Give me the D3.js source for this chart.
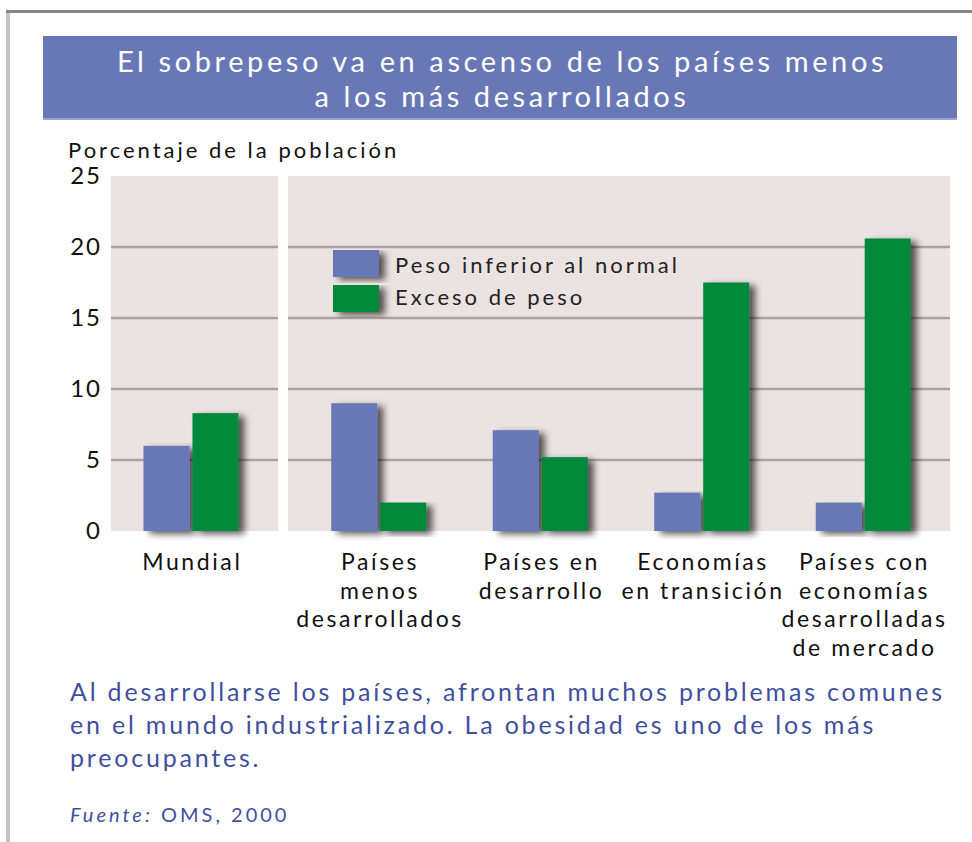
<!DOCTYPE html>
<html>
<head>
<meta charset="utf-8">
<script src="https://cdn.jsdelivr.net/npm/d3@7"></script>
<style>
  body { margin: 0; background: #fff; }
  svg { display: block; }
  text { font-family: "Lato", "DejaVu Sans", sans-serif; }
</style>
</head>
<body>
<svg id="chart" width="972" height="842"></svg>
<script>
const categories = [
    "Mundial",
    "Países menos desarrollados",
    "Países en desarrollo",
    "Economías en transición",
    "Países con economías desarrolladas de mercado"
];
const categoryLines = [
    ["Mundial"],
    ["Países", "menos", "desarrollados"],
    ["Países en", "desarrollo"],
    ["Economías", "en transición"],
    ["Países con", "economías", "desarrolladas", "de mercado"]
];
const seriesNames = ["Peso inferior al normal", "Exceso de peso"];
const underweight = [6.0, 9.0, 7.1, 2.7, 2.0];
const overweight = [8.3, 2.0, 5.2, 17.5, 20.6];
const yTicks = [0, 5, 10, 15, 20, 25];

const titleLines = [
    "El sobrepeso va en ascenso de los países menos",
    "a los más desarrollados"
];
const captionLines = [
    "Al desarrollarse los países, afrontan muchos problemas comunes",
    "en el mundo industrializado. La obesidad es uno de los más",
    "preocupantes."
];

const blue = "#6878b6";
const green = "#00883a";
const textBlue = "#3f4f9f";

const svg = d3.select("#chart");

// drop shadow for the bars
const defs = svg.append("defs");
const shadow = defs.append("filter")
    .attr("id", "shadow")
    .attr("x", "-30%").attr("y", "-10%")
    .attr("width", "160%").attr("height", "130%");
shadow.append("feGaussianBlur").attr("in", "SourceAlpha").attr("stdDeviation", 3.5).attr("result", "blur");
shadow.append("feOffset").attr("in", "blur").attr("dx", 6).attr("dy", 3).attr("result", "off");
shadow.append("feComponentTransfer").attr("in", "off").attr("result", "soft")
    .append("feFuncA").attr("type", "linear").attr("slope", 0.65);
const merge = shadow.append("feMerge");
merge.append("feMergeNode").attr("in", "soft");
merge.append("feMergeNode").attr("in", "SourceGraphic");

// frame
svg.append("rect").attr("x", 6).attr("y", 10).attr("width", 966).attr("height", 3).attr("fill", "#858585");
svg.append("rect").attr("x", 6).attr("y", 13).attr("width", 4).attr("height", 829).attr("fill", "#c4c4c4");

// title box
svg.append("rect")
    .attr("x", 43).attr("y", 36)
    .attr("width", 914).attr("height", 84)
    .attr("fill", blue);
svg.append("rect")
    .attr("x", 43).attr("y", 118)
    .attr("width", 914).attr("height", 2)
    .attr("fill", "#9aa4d0");

svg.selectAll(".title")
    .data(titleLines)
    .enter()
    .append("text")
    .attr("class", "title")
    .attr("x", 502)
    .attr("y", (d, i) => 72 + i * 35)
    .attr("text-anchor", "middle")
    .attr("fill", "#fff")
    .attr("font-size", 29)
    .attr("letter-spacing", 3.6)
    .text((d) => d);

// y axis label
svg.append("text")
    .attr("x", 68).attr("y", 158)
    .attr("font-size", 22)
    .attr("letter-spacing", 3)
    .attr("fill", "#111")
    .text("Porcentaje de la población");

// scales
const y = d3.scaleLinear().domain([0, 25]).range([531, 176]);

const leftPanel = { x0: 111, x1: 278 };
const rightPanel = { x0: 288, x1: 950 };

const xLeft = d3.scaleBand().domain(categories.slice(0, 1)).range([111, 271]);
const xRight = d3.scaleBand().domain(categories.slice(1)).range([298, 944]);
const groupCenter = (c) => {
    const s = xLeft.domain().includes(c) ? xLeft : xRight;
    return s(c) + s.bandwidth() / 2;
};
const xInner = d3.scaleBand().domain(seriesNames).range([0, 95]).paddingInner(0.06);

// panels
[leftPanel, rightPanel].forEach((p) => {
    svg.append("rect")
        .attr("x", p.x0).attr("y", y(25))
        .attr("width", p.x1 - p.x0).attr("height", y(0) - y(25))
        .attr("fill", "#ebe3e1");
    svg.append("g")
        .selectAll("line")
        .data(yTicks.filter((t) => t > 0 && t < 25))
        .enter()
        .append("line")
        .attr("x1", p.x0).attr("x2", p.x1)
        .attr("y1", (d) => y(d)).attr("y2", (d) => y(d))
        .attr("stroke", "#aaa2a0")
        .attr("stroke-width", 2.5);
});

// y axis ticks
const yAxis = svg.append("g")
    .attr("transform", "translate(102,0)")
    .call(d3.axisLeft(y).tickValues(yTicks).tickSize(0).tickPadding(0));
yAxis.select(".domain").remove();
yAxis.selectAll("text")
    .attr("font-size", 24)
    .attr("letter-spacing", 2)
    .attr("fill", "#111")
    .style("font-family", "Lato, sans-serif");

// bars
const rows = categories.map((c, i) => ({ category: c, values: [underweight[i], overweight[i]] }));

const groups = svg.append("g")
    .selectAll("g")
    .data(rows)
    .enter()
    .append("g")
    .attr("transform", (d) => `translate(${groupCenter(d.category) - 47.5},0)`);

groups.selectAll("rect")
    .data((d) => d.values.map((v, k) => ({ key: seriesNames[k], value: v })))
    .enter()
    .append("rect")
    .attr("x", (d) => xInner(d.key))
    .attr("y", (d) => y(d.value))
    .attr("width", xInner.bandwidth())
    .attr("height", (d) => y(0) - y(d.value))
    .attr("fill", (d, k) => (k === 0 ? blue : green))
    .attr("filter", "url(#shadow)");

// legend
const legend = svg.append("g").attr("transform", "translate(333,250)");
seriesNames.forEach((name, i) => {
    legend.append("rect")
        .attr("x", 0).attr("y", i * 35)
        .attr("width", 46).attr("height", 27)
        .attr("fill", i === 0 ? blue : green)
        .attr("filter", "url(#shadow)");
    legend.append("text")
        .attr("x", 62).attr("y", i * 32 + 23)
        .attr("font-size", 22)
        .attr("letter-spacing", 3)
        .attr("fill", "#222")
        .text(name);
});

// category labels
const labels = svg.append("g")
    .selectAll("text")
    .data(rows)
    .enter()
    .append("text")
    .attr("text-anchor", "middle")
    .attr("font-size", 23)
    .attr("letter-spacing", 2.6)
    .attr("fill", "#111");
labels.selectAll("tspan")
    .data((d, i) => categoryLines[i].map((line) => ({ line, c: d.category })))
    .enter()
    .append("tspan")
    .attr("x", (d) => groupCenter(d.c) + 1.3)
    .attr("y", (d, j) => 570 + j * 28.5)
    .text((d) => d.line);

// caption
svg.selectAll(".caption")
    .data(captionLines)
    .enter()
    .append("text")
    .attr("class", "caption")
    .attr("x", 70)
    .attr("y", (d, i) => 701 + i * 33)
    .attr("font-size", 25)
    .attr("letter-spacing", 2.8)
    .attr("fill", textBlue)
    .text((d) => d);

const source = svg.append("text")
    .attr("x", 70).attr("y", 822)
    .attr("font-size", 20)
    .attr("letter-spacing", 3)
    .attr("fill", textBlue);
source.append("tspan").attr("font-style", "italic").text("Fuente:");
source.append("tspan").text(" OMS, 2000");
</script>
</body>
</html>
